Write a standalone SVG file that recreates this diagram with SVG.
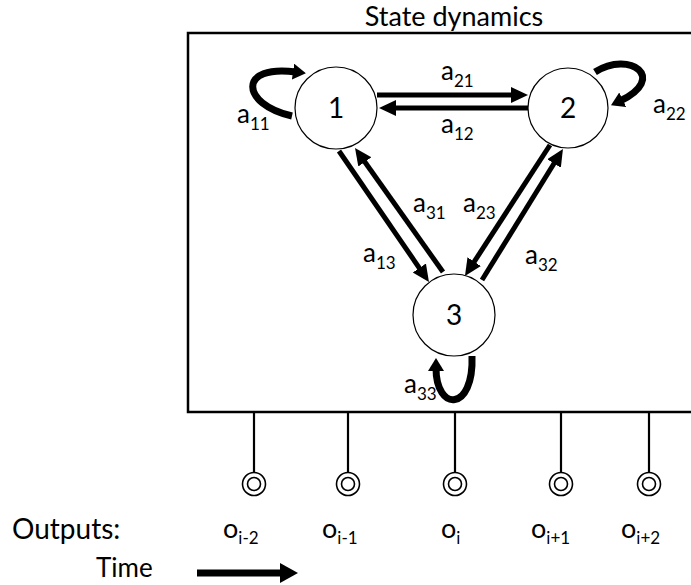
<svg xmlns="http://www.w3.org/2000/svg" width="691" height="585" viewBox="0 0 691 585">
<defs>
<style>
.t{font-family:Lato,"Open Sans","Liberation Sans",sans-serif;fill:#000}
.lbl{font-size:26px}
.sub{font-size:17px}
.num{font-size:28px}
.node{fill:#fff;stroke:#000;stroke-width:1.2}
.edge{fill:none;stroke:#000;stroke-width:5}
.loop{fill:none;stroke:#000;stroke-width:7}
.stem{stroke:#000;stroke-width:2.2}
.out{fill:#fff;stroke:#000;stroke-width:1.6}
</style>
<marker id="ah" markerUnits="userSpaceOnUse" markerWidth="18" markerHeight="17" refX="7" refY="8" orient="auto"><path d="M0,0 L17,8 L0,16 z" fill="#000"/></marker>
<marker id="lh" markerUnits="userSpaceOnUse" markerWidth="14" markerHeight="18" refX="3" refY="8" orient="auto"><path d="M0,0 L13,8 L0,16 z" fill="#000"/></marker>
</defs>
<rect width="691" height="585" fill="#fff"/>
<text class="t" x="454" y="26" font-size="27" text-anchor="middle">State dynamics</text>
<rect id="box" x="188" y="33" width="530" height="379" fill="none" stroke="#000" stroke-width="2.5"/>
<g id="connectors">
<line class="edge" x1="377" y1="95" x2="518" y2="95" marker-end="url(#ah)"/>
<line class="edge" x1="528" y1="108" x2="389" y2="108" marker-end="url(#ah)"/>
<line class="edge" x1="339" y1="151" x2="423.3" y2="273.8" marker-end="url(#ah)"/>
<line class="edge" x1="443" y1="272" x2="360.8" y2="156.2" marker-end="url(#ah)"/>
<line class="edge" x1="550" y1="145" x2="470.4" y2="267.6" marker-end="url(#ah)"/>
<line class="edge" x1="482" y1="280" x2="557.7" y2="157.5" marker-end="url(#ah)"/>
<path class="loop" d="M292,116 C240,104 238,64 296,72" marker-end="url(#lh)"/>
<path class="loop" d="M595,72 C630,50 668,78 620,101" marker-end="url(#lh)"/>
<path class="loop" d="M472,356 C474,412 436,412 436,368" marker-end="url(#lh)"/>
<line class="stem" x1="254" y1="412" x2="254" y2="473"/>
<line class="stem" x1="348" y1="412" x2="348" y2="473"/>
<line class="stem" x1="455" y1="412" x2="455" y2="473"/>
<line class="stem" x1="561" y1="412" x2="561" y2="473"/>
<line class="stem" x1="649" y1="412" x2="649" y2="473"/>
</g>
<g id="node1"><circle class="node" cx="336" cy="108" r="41"/><text class="t num" x="336" y="118" text-anchor="middle">1</text></g>
<g id="node2"><circle class="node" cx="568" cy="108" r="40"/><text class="t num" x="568" y="118" text-anchor="middle">2</text></g>
<g id="node3"><circle class="node" cx="454" cy="315" r="41"/><text class="t num" x="454" y="325" text-anchor="middle">3</text></g>
<g id="edge-labels">
<text class="t lbl" x="237" y="123">a<tspan class="sub" dy="7">11</tspan></text>
<text class="t lbl" x="653" y="113">a<tspan class="sub" dy="7">22</tspan></text>
<text class="t lbl" x="441" y="80">a<tspan class="sub" dy="7">21</tspan></text>
<text class="t lbl" x="441" y="133">a<tspan class="sub" dy="7">12</tspan></text>
<text class="t lbl" x="413" y="212">a<tspan class="sub" dy="7">31</tspan></text>
<text class="t lbl" x="463" y="212">a<tspan class="sub" dy="7">23</tspan></text>
<text class="t lbl" x="363" y="262">a<tspan class="sub" dy="7">13</tspan></text>
<text class="t lbl" x="525" y="264">a<tspan class="sub" dy="7">32</tspan></text>
<text class="t lbl" x="404" y="393">a<tspan class="sub" dy="7">33</tspan></text>
</g>
<g id="out1"><circle class="out" cx="254" cy="484" r="11.5"/><circle class="out" cx="254" cy="484" r="6.5"/><text class="t" font-size="27" x="223" y="538">o<tspan class="sub" dy="6">i-2</tspan></text></g>
<g id="out2"><circle class="out" cx="348" cy="484" r="11.5"/><circle class="out" cx="348" cy="484" r="6.5"/><text class="t" font-size="27" x="322" y="538">o<tspan class="sub" dy="6">i-1</tspan></text></g>
<g id="out3"><circle class="out" cx="455" cy="484" r="11.5"/><circle class="out" cx="455" cy="484" r="6.5"/><text class="t" font-size="27" x="441" y="538">o<tspan class="sub" dy="6">i</tspan></text></g>
<g id="out4"><circle class="out" cx="561" cy="484" r="11.5"/><circle class="out" cx="561" cy="484" r="6.5"/><text class="t" font-size="27" x="531" y="538">o<tspan class="sub" dy="6">i+1</tspan></text></g>
<g id="out5"><circle class="out" cx="649" cy="484" r="11.5"/><circle class="out" cx="649" cy="484" r="6.5"/><text class="t" font-size="27" x="621" y="538">o<tspan class="sub" dy="6">i+2</tspan></text></g>
<text class="t" x="12" y="539" font-size="28">Outputs:</text>
<text class="t" x="96" y="577" font-size="26">Time</text>
<g id="time-arrow"><line x1="197" y1="573" x2="282" y2="573" stroke="#000" stroke-width="7"/><path d="M280,563 L298,573 L280,583 z" fill="#000"/></g>
</svg>
